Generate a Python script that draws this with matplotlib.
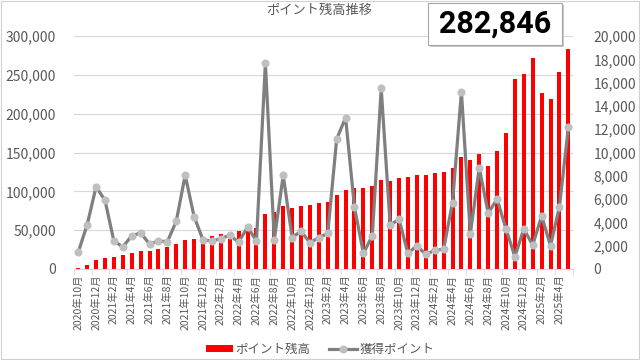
import numpy as np
import matplotlib
matplotlib.use("Agg")
import matplotlib.pyplot as plt
from matplotlib.patches import Rectangle
from matplotlib.ticker import FuncFormatter

plt.rcParams["font.family"] = ["Noto Sans CJK JP", "DejaVu Sans"]

# monthly data 2020-10 .. 2025-05
start_year, start_month = 2020, 10
balance = [
    1500, 5000, 11200, 14500, 15400, 17600, 20600, 22800, 23600, 26000,
    28300, 31800, 37300, 38600, 39500, 42500, 45500, 46300, 48900, 52300,
    53200, 71200, 73000, 81000, 78500, 81000, 82600, 85400, 86600, 94800,
    102000, 103800, 104600, 106800, 114100, 112800, 117500, 118400, 120600, 121000,
    123200, 124400, 130000, 144100, 140300, 147600, 132200, 151900, 174600, 244100,
    251000, 271200, 226100, 218800, 253100, 282846,
]
earned = [
    1450, 3800, 7050, 5900, 2400, 1900, 2850, 3100, 2150, 2400,
    2350, 4100, 8050, 4500, 2500, 2400, 2600, 2900, 2300, 3600,
    2400, 17650, 2500, 8050, 2700, 3250, 2250, 2700, 3050, 11150,
    13000, 5300, 1350, 2850, 15500, 3800, 4250, 1350, 2000, 1250,
    1600, 1700, 5700, 15200, 3000, 8700, 4800, 6000, 3450, 1050,
    3450, 2050, 4550, 2000, 5350, 12150,
]
latest_label = "282,846"

months = []
for k in range(len(balance)):
    m = start_month - 1 + k
    months.append(f"{start_year + m // 12}年{m % 12 + 1}月")

gray_txt = "#595959"
fig = plt.figure(figsize=(6.4, 3.6), dpi=100)
fig.patches.append(Rectangle((0.001, 0.002), 0.997, 0.996, transform=fig.transFigure,
                             fill=False, ec="#d0d0d0", lw=0.8))

ax = fig.add_axes([73.8 / 640, 91 / 360, 499 / 640, 233 / 360])
x = np.arange(len(balance))
ax.bar(x, balance, width=0.45, color="#ff0000", label="ポイント残高", zorder=2)
ax.set_xlim(-0.5, len(balance) - 0.5)
ax.set_ylim(0, 300000)
ax.set_yticks(np.arange(0, 300001, 50000))
ax.yaxis.set_major_formatter(FuncFormatter(lambda v, p: f"{v:,.0f}"))
ax.grid(axis="y", color="#d9d9d9", lw=0.9, zorder=0)
ax.set_axisbelow(True)
for s in ["top", "left", "right"]:
    ax.spines[s].set_visible(False)
ax.spines["bottom"].set_color("#d9d9d9")
ax.tick_params(axis="y", length=0, pad=13, labelsize=10, labelcolor=gray_txt)

ax.set_xticks(x[::2])
ax.set_xticklabels(months[::2], rotation=90, fontsize=7.5, color=gray_txt)
ax.set_xticks(np.arange(-0.5, len(balance), 2), minor=True)
ax.tick_params(axis="x", which="major", length=0, pad=4)
ax.tick_params(axis="x", which="minor", length=4, color="#d9d9d9")

ax2 = ax.twinx()
ax2.plot(x, earned, color="#7f7f7f", lw=2.3, marker="o", ms=4.8,
         mfc="#bfbfbf", mec="#bfbfbf", label="獲得ポイント", zorder=3)
ax2.set_ylim(0, 20000)
ax2.set_yticks(np.arange(0, 20001, 2000))
ax2.yaxis.set_major_formatter(FuncFormatter(lambda v, p: f"{v:,.0f}"))
for s in ["top", "left", "right", "bottom"]:
    ax2.spines[s].set_visible(False)
ax2.tick_params(axis="y", length=0, pad=15, labelsize=10, labelcolor=gray_txt)

fig.text(0.498, 0.97, "ポイント残高推移", ha="center", va="center", fontsize=9.5, color=gray_txt)

# latest value call-out
bx, by, bw, bh = 428 / 640, 1 - 45 / 360, 134 / 640, 42 / 360
fig.patches.append(Rectangle((bx + 2 / 640, by - 2 / 360), bw, bh, transform=fig.transFigure,
                             fc="#c8c8c8", ec="none", zorder=5))
fig.patches.append(Rectangle((bx, by), bw, bh, transform=fig.transFigure,
                             fc="white", ec="#a6a6a6", lw=0.8, zorder=6))
fig.text(bx + bw / 2, by + bh / 2, latest_label, ha="center", va="center",
         fontsize=22, fontweight="bold", family="Roboto", color="black", zorder=7)

h1, l1 = ax.get_legend_handles_labels()
h2, l2 = ax2.get_legend_handles_labels()
fig.legend(h1 + h2, l1 + l2, loc="center", bbox_to_anchor=(0.5, 1 - 349 / 360), ncol=2,
           frameon=False, fontsize=9, handlelength=2.2, handleheight=0.5,
           columnspacing=1.5, handletextpad=0.2, labelcolor=gray_txt)

fig.savefig("out.png", dpi=100)
